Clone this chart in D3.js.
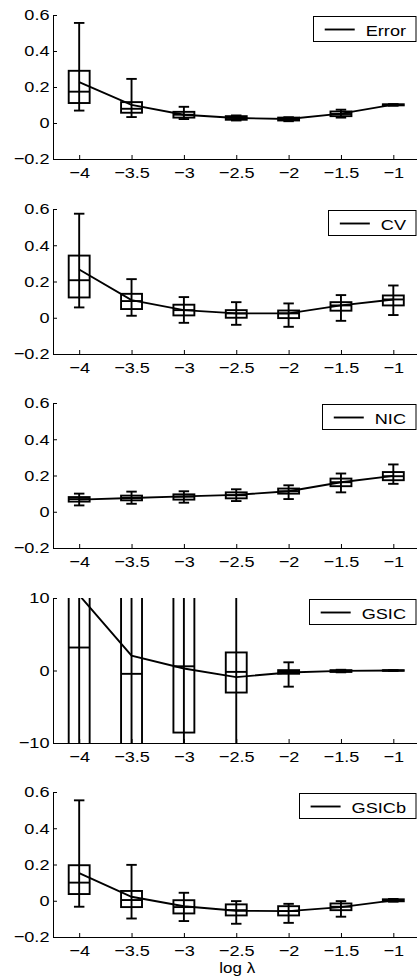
<!DOCTYPE html>
<html lang="en">
<head>
<meta charset="UTF-8">
<title>Criteria vs log lambda</title>
<script src="https://d3js.org/d3.v7.min.js"></script>
<style>
  body { margin: 0; background: #fff; }
  svg { display: block; font-family: "Liberation Sans", Arial, sans-serif; }
  .axis path, .axis line { stroke: #000; stroke-width: 1; }
  .axis text { font-size: 15.5px; fill: #000; }
</style>
</head>
<body>
<div id="chart"></div>
<script>
// x positions and labels
const logLambda = [-4, -3.5, -3, -2.5, -2, -1.5, -1];
const xTickLabels = ["\u22124", "\u22123.5", "\u22123", "\u22122.5", "\u22122", "\u22121.5", "\u22121"];

// Error
const errorHi   = [0.556, 0.245, 0.090, 0.042, 0.032, 0.074, 0.105];
const errorQ3   = [0.290, 0.116, 0.062, 0.038, 0.030, 0.064, 0.104];
const errorMed  = [0.174, 0.079, 0.046, 0.028, 0.022, 0.050, 0.101];
const errorQ1   = [0.111, 0.057, 0.030, 0.018, 0.014, 0.038, 0.098];
const errorLo   = [0.069, 0.033, 0.022, 0.014, 0.010, 0.030, 0.096];
const errorMean = [0.227, 0.101, 0.046, 0.028, 0.022, 0.052, 0.102];

// CV
const cvHi   = [0.574, 0.213, 0.114, 0.086, 0.079, 0.125, 0.178];
const cvQ3   = [0.343, 0.132, 0.072, 0.042, 0.040, 0.086, 0.123];
const cvMed  = [0.207, 0.092, 0.042, 0.024, 0.024, 0.068, 0.101];
const cvQ1   = [0.112, 0.048, 0.013, 0.000, -0.002, 0.039, 0.068];
const cvLo   = [0.057, 0.011, -0.028, -0.039, -0.050, -0.017, 0.015];
const cvMean = [0.266, 0.097, 0.042, 0.024, 0.024, 0.068, 0.101];

// NIC
const nicHi   = [0.100, 0.111, 0.113, 0.124, 0.146, 0.211, 0.261];
const nicQ3   = [0.081, 0.089, 0.096, 0.107, 0.128, 0.183, 0.219];
const nicMed  = [0.070, 0.076, 0.083, 0.091, 0.113, 0.163, 0.196];
const nicQ1   = [0.056, 0.063, 0.067, 0.074, 0.100, 0.141, 0.174];
const nicLo   = [0.035, 0.044, 0.050, 0.059, 0.070, 0.107, 0.154];
const nicMean = [0.067, 0.076, 0.085, 0.093, 0.113, 0.163, 0.198];

// GSIC (several boxes run off the axes)
const gsicHi   = [25, 22, 20, 15, 1.13, 0.10, 0.06];
const gsicQ3   = [18, 16, 14, 2.49, 0.05, 0.05, 0.04];
const gsicMed  = [3.17, -0.46, 0.58, -0.19, -0.20, -0.07, 0.00];
const gsicQ1   = [-15, -14, -8.56, -3.04, -0.45, -0.20, -0.04];
const gsicLo   = [-22, -20, -18, -15, -2.23, -0.25, -0.06];
const gsicMean = [10.4, 2.04, 0.27, -0.91, -0.27, -0.05, 0.00];

// GSICb
const gsicbHi   = [0.554, 0.198, 0.044, -0.002, -0.017, -0.002, 0.010];
const gsicbQ3   = [0.196, 0.054, 0.003, -0.020, -0.030, -0.015, 0.008];
const gsicbMed  = [0.100, 0.004, -0.035, -0.052, -0.057, -0.033, 0.002];
const gsicbQ1   = [0.037, -0.035, -0.070, -0.081, -0.081, -0.052, -0.003];
const gsicbLo   = [-0.033, -0.098, -0.112, -0.127, -0.122, -0.088, -0.005];
const gsicbMean = [0.152, 0.022, -0.030, -0.055, -0.057, -0.035, 0.002];

// y ticks
const smallTicks = [-0.2, 0, 0.2, 0.4, 0.6];
const smallTickLabels = ["\u22120.2", "0", "0.2", "0.4", "0.6"];
const bigTicks = [-10, 0, 10];
const bigTickLabels = ["\u221210", "0", "10"];

const panels = [
  {name: "Error", hi: errorHi, q3: errorQ3, med: errorMed, q1: errorQ1, lo: errorLo, mean: errorMean, dom: [-0.2, 0.6], ticks: smallTicks, labels: smallTickLabels},
  {name: "CV", hi: cvHi, q3: cvQ3, med: cvMed, q1: cvQ1, lo: cvLo, mean: cvMean, dom: [-0.2, 0.6], ticks: smallTicks, labels: smallTickLabels},
  {name: "NIC", hi: nicHi, q3: nicQ3, med: nicMed, q1: nicQ1, lo: nicLo, mean: nicMean, dom: [-0.2, 0.6], ticks: smallTicks, labels: smallTickLabels},
  {name: "GSIC", hi: gsicHi, q3: gsicQ3, med: gsicMed, q1: gsicQ1, lo: gsicLo, mean: gsicMean, dom: [-10, 10], ticks: bigTicks, labels: bigTickLabels},
  {name: "GSICb", hi: gsicbHi, q3: gsicbQ3, med: gsicbMed, q1: gsicbQ1, lo: gsicbLo, mean: gsicbMean, dom: [-0.2, 0.6], ticks: smallTicks, labels: smallTickLabels}
];

// layout
const W = 417, H = 978;
const tops = [15, 209, 403, 598, 792];
const bottoms = [159, 354, 548, 743, 937];
const xLeft = 53, xRight = 419.5;
const sx = 1.17;          // the source font is a bit wider
const boxHalf = 0.1;      // box half width, in x units
const capHalf = 0.05;     // whisker cap half width
const lw = 1.9;

const svg = d3.select("#chart").append("svg")
  .attr("width", W).attr("height", H);

const x = d3.scaleLinear().domain([-4.25, -0.75]).range([xLeft, xRight]);

panels.forEach((p, i) => {
  const y = d3.scaleLinear().domain(p.dom).range([bottoms[i], tops[i]]);
  const g = svg.append("g");

  const clipId = "clip" + i;
  svg.append("clipPath").attr("id", clipId)
    .append("rect")
    .attr("x", xLeft).attr("y", tops[i])
    .attr("width", W - xLeft).attr("height", bottoms[i] - tops[i] + 1);

  const plot = g.append("g").attr("clip-path", `url(#${clipId})`);

  const rows = logLambda.map((v, j) => ({
    x: v, hi: p.hi[j], q3: p.q3[j], med: p.med[j], q1: p.q1[j], lo: p.lo[j], mean: p.mean[j]
  }));

  const bx = plot.selectAll(".bx").data(rows).join("g").attr("class", "bx")
    .attr("stroke", "#000").attr("stroke-width", lw).attr("fill", "none");

  // whisker, through the box
  bx.append("line")
    .attr("x1", d => x(d.x)).attr("x2", d => x(d.x))
    .attr("y1", d => y(d.lo)).attr("y2", d => y(d.hi));
  // caps
  bx.append("line")
    .attr("x1", d => x(d.x - capHalf)).attr("x2", d => x(d.x + capHalf))
    .attr("y1", d => y(d.hi)).attr("y2", d => y(d.hi));
  bx.append("line")
    .attr("x1", d => x(d.x - capHalf)).attr("x2", d => x(d.x + capHalf))
    .attr("y1", d => y(d.lo)).attr("y2", d => y(d.lo));
  // box
  bx.append("rect")
    .attr("x", d => x(d.x - boxHalf))
    .attr("width", d => x(d.x + boxHalf) - x(d.x - boxHalf))
    .attr("y", d => y(d.q3))
    .attr("height", d => y(d.q1) - y(d.q3));
  // median
  bx.append("line")
    .attr("x1", d => x(d.x - boxHalf)).attr("x2", d => x(d.x + boxHalf))
    .attr("y1", d => y(d.med)).attr("y2", d => y(d.med));

  // mean line
  plot.append("path")
    .datum(rows)
    .attr("fill", "none")
    .attr("stroke", "#000")
    .attr("stroke-width", lw)
    .attr("d", d3.line().x(d => x(d.x)).y(d => y(d.mean)));

  // axes, ticks pointing inwards
  const xAxis = g.append("g").attr("class", "axis")
    .attr("transform", `translate(0,${bottoms[i]})`)
    .call(d3.axisBottom(x).tickValues(logLambda)
      .tickFormat((d, j) => xTickLabels[j])
      .tickSizeInner(-4).tickSizeOuter(0).tickPadding(8));
  xAxis.select(".domain").attr("d", `M${xLeft},0.5H${W}`);
  xAxis.selectAll(".tick text").attr("transform", `scale(${sx},1)`);

  const yAxis = g.append("g").attr("class", "axis")
    .attr("transform", `translate(${xLeft},0)`)
    .call(d3.axisLeft(y).tickValues(p.ticks)
      .tickFormat((d, j) => p.labels[j])
      .tickSizeInner(-4).tickSizeOuter(0).tickPadding(3));
  yAxis.selectAll(".tick text").attr("transform", `scale(${sx},1)`);
  g.selectAll(".axis").attr("font-size", null).attr("font-family", null);

  // legend
  const lgTop = tops[i] + 1;
  const lg = g.append("g");
  const txt = lg.append("g")
    .attr("transform", `translate(406,${lgTop + 20}) scale(${sx},1)`)
    .append("text")
    .attr("text-anchor", "end")
    .style("font-size", "15.5px")
    .text(p.name);
  const tw = txt.node().getComputedTextLength() * sx;
  const lineR = 406 - tw - 11;
  const lineL = lineR - 30;
  const boxL = Math.round(lineL - 12) + 0.5;
  lg.append("rect")
    .attr("x", boxL).attr("y", lgTop + 0.5)
    .attr("width", 416 - boxL).attr("height", 25)
    .attr("fill", "none").attr("stroke", "#000").attr("stroke-width", 1);
  lg.append("line")
    .attr("x1", lineL).attr("x2", lineR)
    .attr("y1", lgTop + 13.5).attr("y2", lgTop + 13.5)
    .attr("stroke", "#000").attr("stroke-width", lw);
});

// x label of the last panel
svg.append("g")
  .attr("transform", `translate(${(xLeft + xRight) / 2 + 1},973) scale(${sx},1)`)
  .append("text")
  .attr("text-anchor", "middle")
  .style("font-size", "14.5px")
  .text("log \u03bb");
</script>
</body>
</html>
